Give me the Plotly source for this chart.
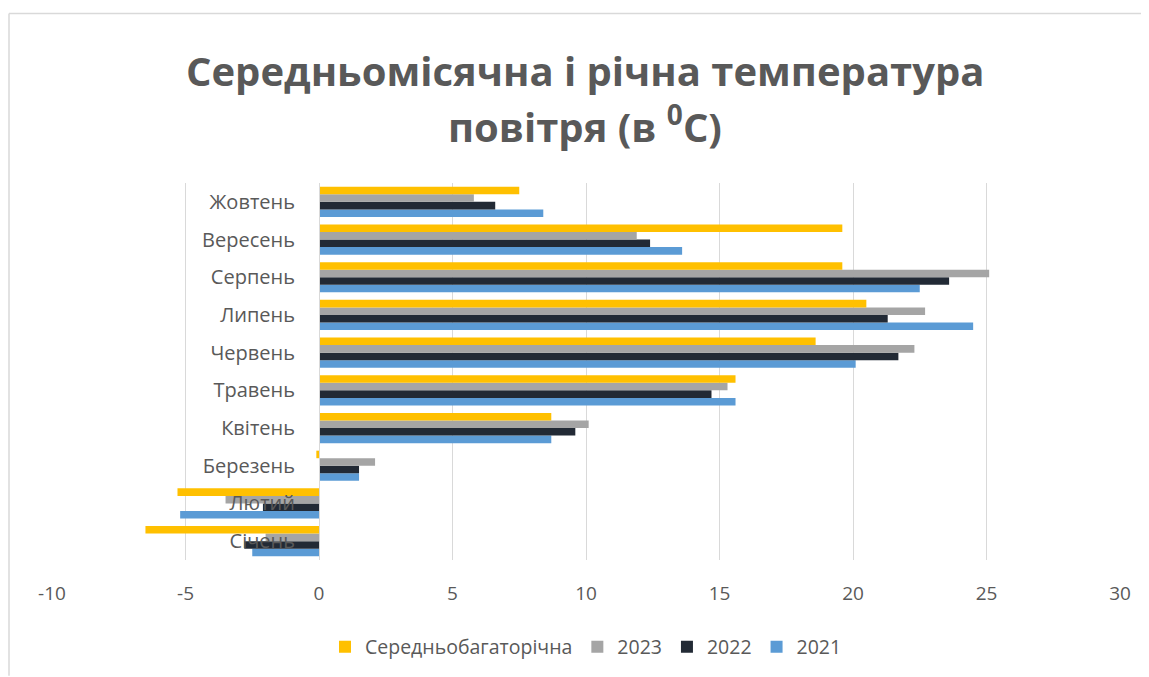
import plotly.graph_objects as go

months = ["Січень", "Лютий", "Березень", "Квітень", "Травень",
          "Червень", "Липень", "Серпень", "Вересень", "Жовтень"]
avg_longterm = [-6.5, -5.3, -0.1, 8.7, 15.6, 18.6, 20.5, 19.6, 19.6, 7.5]
y2023 = [-2.0, -3.5, 2.1, 10.1, 15.3, 22.3, 22.7, 25.1, 11.9, 5.8]
y2022 = [-2.8, -2.1, 1.5, 9.6, 14.7, 21.7, 21.3, 23.6, 12.4, 6.6]
y2021 = [-2.5, -5.2, 1.5, 8.7, 15.6, 20.1, 24.5, 22.5, 13.6, 8.4]
x_ticks = [-10, -5, 0, 5, 10, 15, 20, 25, 30]
x_tick_labels = [str(v) for v in x_ticks]
title_lines = ["Середньомісячна і річна температура", "повітря (в <sup>0</sup>С)"]

series = [
    ("2021", y2021, "#5b9bd5"),
    ("2022", y2022, "#222a35"),
    ("2023", y2023, "#a5a5a5"),
    ("Середньобагаторічна", avg_longterm, "#ffc000"),
]

fig = go.Figure()
for name, vals, col in series:
    fig.add_trace(go.Bar(x=vals, y=months, name=name, orientation="h",
                         marker=dict(color=col, line=dict(width=0))))

# page has an 8px body margin, so the figure is 8px smaller and offsets shifted
OFF = 8
W, H = 1149 - OFF, 677 - OFF
L, T = 52 - OFF, 183 - OFF
R = W - (1120 - OFF)
B = H - (561 - OFF)
pw = W - L - R
ph = H - T - B
xmin, xmax = -10, 30
zero_frac = (0 - xmin) / (xmax - xmin)


def py(page_y):
    """page pixel y -> plot paper fraction"""
    return ((H - B) - (page_y - OFF)) / ph


def px(page_x):
    return ((page_x - OFF) - L) / pw


fig.update_layout(
    width=W, height=H,
    margin=dict(l=L, r=R, t=T, b=B),
    paper_bgcolor="white", plot_bgcolor="white",
    barmode="group", bargap=0.2, bargroupgap=0,
    font=dict(family="Open Sans", color="#595959"),
    legend=dict(orientation="h", x=0.5, xanchor="center",
                y=py(647), yanchor="middle",
                traceorder="reversed", font=dict(size=19.5, color="#595959"),
                itemwidth=30),
    xaxis=dict(range=[xmin, xmax], tickvals=x_ticks, ticktext=x_tick_labels,
               showgrid=True, gridcolor="#d9d9d9", gridwidth=1, zeroline=False,
               showline=False, tickfont=dict(size=19, color="#595959"),
               ticks="outside", ticklen=16, tickcolor="rgba(0,0,0,0)"),
    yaxis=dict(anchor="free", position=zero_frac, showgrid=False,
               zeroline=False, showline=True, linecolor="#d9d9d9", linewidth=1,
               tickfont=dict(size=20, color="#595959"),
               ticks="outside", ticklen=20, tickcolor="rgba(0,0,0,0)"),
)

for txt, cy in zip(title_lines, [70, 124]):
    fig.add_annotation(text="<b>" + txt + "</b>", xref="paper", yref="paper",
                       x=px(585), y=py(cy), xanchor="center", yanchor="middle",
                       showarrow=False,
                       font=dict(size=40, color="#595959", family="Open Sans"))

# chart border (left and top edges)
fx = px(9)
fy = py(13)
fb = py(677)
fig.add_shape(type="line", xref="paper", yref="paper", x0=fx, x1=fx, y0=fb, y1=fy,
              line=dict(color="#d9d9d9", width=1.5))
fig.add_shape(type="line", xref="paper", yref="paper", x0=fx, x1=px(1149), y0=fy, y1=fy,
              line=dict(color="#d9d9d9", width=1.5))

fig.write_html("out.html")
